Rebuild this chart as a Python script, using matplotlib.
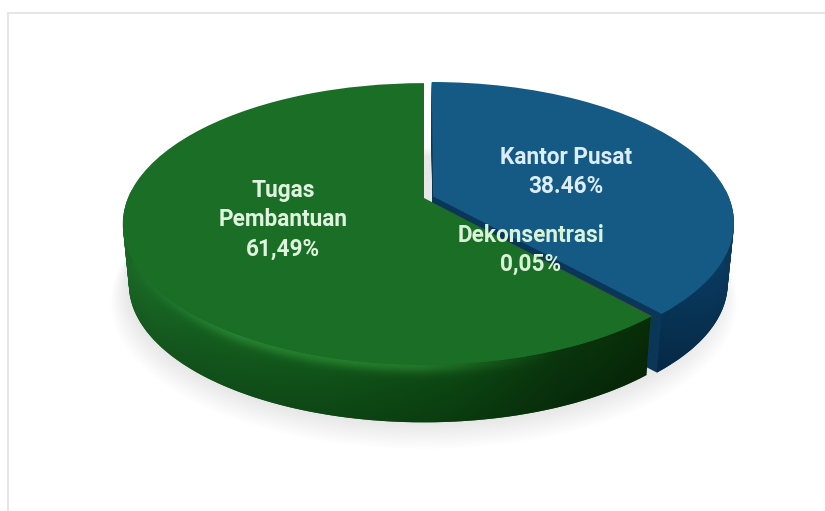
import numpy as np
import matplotlib
matplotlib.use("Agg")
import matplotlib.pyplot as plt
from matplotlib.patches import Polygon
from matplotlib.transforms import Transform

# data
categories = ["Kantor Pusat", "Dekonsentrasi", "Tugas Pembantuan"]
values = [38.46, 0.05, 61.49]
explode = [0.033, 0, 0]
top_colors = ["#145a85", "#7a5a1c", "#1b6e26"]
side_colors = ["#0a3657", "#1a6626", "#1a6626"]
labels = ["Tugas\nPembantuan\n61,49%", "Kantor Pusat\n38.46%", "Dekonsentrasi\n0,05%"]
label_x = [283, 566, 531]
label_y = [220, 172, 250]
label_colors = ["#dff3df", "#dcedf8", "#d8f3d8"]

# perspective of the flat pie, all in pixels
CX, CY = 424, 198
A, B, T = 296, 136, 0.184
DEPTH = 61
SHRINK = 0.98


def project(x, y, shift=0.0, k=1.0):
    X = CX + k * A * x / (1 + T * y)
    Y = CY + shift - k * B * y / (1 + T * y)
    return X, Y


class Persp(Transform):
    input_dims = 2
    output_dims = 2
    is_separable = False
    has_inverse = False

    def __init__(self, shift=0.0, k=1.0):
        super().__init__()
        self.shift = shift
        self.k = k

    def transform_non_affine(self, v):
        v = np.asarray(v)
        X, Y = project(v[:, 0], v[:, 1], self.shift, self.k)
        return np.column_stack([X, Y])


def draw_pie(ax, colors, shift, k, z):
    wedges, _ = ax.pie(values, colors=colors, explode=explode, startangle=90,
                       counterclock=False, wedgeprops={"linewidth": 0})
    for w in wedges:
        w.set_transform(Persp(shift, k) + ax.transData)
        w.set_zorder(z[wedges.index(w)])
    return wedges


def rim_band(theta1, theta2, dx):
    # outline of the outer wall, angles clockwise from the top
    th = np.radians(np.linspace(theta1, theta2, 200))
    x1, y1 = project(np.sin(th) + dx[0], np.cos(th) + dx[1])
    x2, y2 = project(np.sin(th) + dx[0], np.cos(th) + dx[1], DEPTH, SHRINK)
    return np.column_stack([np.r_[x1, x2[::-1]], np.r_[y1, y2[::-1]]])


def wall_image(ax, stops_x, stops_rgb, dx, theta1, theta2, glow, z):
    xx, yy = np.meshgrid(np.arange(100, 760), np.arange(190, 440))
    th = np.radians(np.linspace(90, 270, 400))
    rx, ry = project(np.sin(th) + dx[0], np.cos(th) + dx[1])
    order = np.argsort(rx)
    rim = np.interp(xx, rx[order], ry[order])
    d = np.clip((yy - rim) / DEPTH, 0, 1)
    img = np.zeros(xx.shape + (3,))
    for i in range(3):
        img[..., i] = np.interp(xx, stops_x, [c[i] for c in stops_rgb]) / 255
    img *= (1.08 - 0.22 * d)[..., None]
    # light strip along the top edge of the wall
    strength = np.interp(xx, [130, 230, 420, 560], [0.0, 0.8, 1.0, 0.0])
    hl = (np.exp(-(d / 0.13) ** 2) * strength)[..., None]
    img = img + hl * np.array(glow) / 255
    im = ax.imshow(np.clip(img, 0, 1), extent=(100, 760, 440, 190), aspect="auto",
                   zorder=z, interpolation="bilinear")
    im.set_clip_path(Polygon(rim_band(theta1, theta2, dx), transform=ax.transData))


fig = plt.figure(figsize=(8.25, 5.11), dpi=100, facecolor="white")
ax = fig.add_axes([0, 0, 1, 1])

# soft shadow under the pie
th = np.linspace(0, 2 * np.pi, 300)
for i in range(12):
    sx, sy = project(np.sin(th), np.cos(th), DEPTH + 1 + i * 1.4, 0.985 + i * 0.005)
    ax.add_patch(Polygon(np.column_stack([sx, sy]), facecolor="#8a8a8a", alpha=0.014,
                         linewidth=0, zorder=1))

# walls: wedges stacked from the bottom up, blue ones first
for shift, k in zip(np.linspace(DEPTH, 1, 31), np.linspace(SHRINK, 1, 31)):
    draw_pie(ax, side_colors, shift, k, [2, 6, 6])

blue_mid = np.radians(values[0] / 100 * 180)
blue_dx = (explode[0] * np.sin(blue_mid), explode[0] * np.cos(blue_mid))
wall_image(ax, [430, 640, 735], [(7, 44, 74), (6, 44, 74), (10, 56, 92)],
           blue_dx, 0, values[0] / 100 * 360, (0, 0, 0), 3)
wall_image(ax, [123, 200, 330, 450, 560, 650],
           [(26, 102, 38), (20, 90, 30), (16, 80, 24), (12, 68, 18), (9, 50, 12), (8, 42, 8)],
           (0, 0), (values[0] + values[1]) / 100 * 360, 360, (20, 42, 20), 7)

# top faces
draw_pie(ax, top_colors, 0, 1, [4, 8, 8])

for text, x, y, c in zip(labels, label_x, label_y, label_colors):
    ax.text(x, y, text, ha="center", va="center", color=c, fontsize=16.3,
            fontweight="bold", family="Roboto", linespacing=1.36, zorder=10)

# frame of the picture, only top and left show
ax.plot([8, 825], [13, 13], color="#e2e2e2", lw=1.2, zorder=0)
ax.plot([8, 8], [13, 511], color="#e2e2e2", lw=1.2, zorder=0)

ax.set_xlim(0, 825)
ax.set_ylim(511, 0)
ax.set_aspect("auto")
ax.axis("off")

plt.savefig("out.png", dpi=100, facecolor="white")
